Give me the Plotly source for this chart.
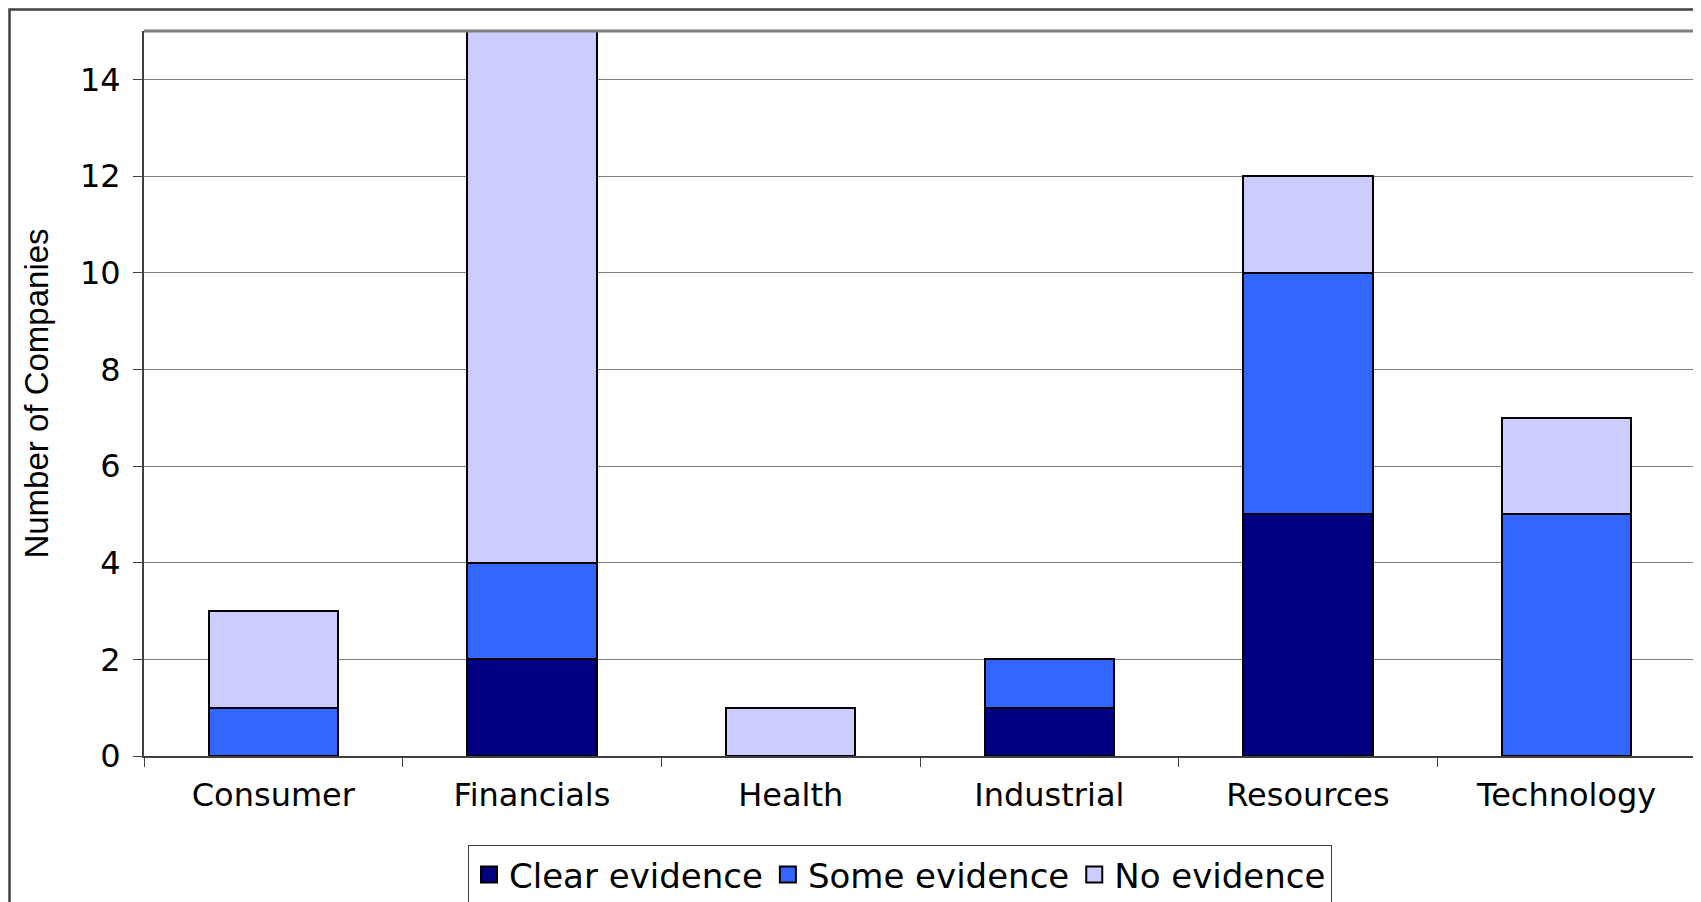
import plotly.graph_objects as go

categories = ["Consumer", "Financials", "Health", "Industrial", "Resources", "Technology"]
clear_evidence = [0, 2, 0, 1, 5, 0]
some_evidence = [1, 2, 0, 1, 5, 5]
no_evidence = [2, 11, 1, 0, 2, 2]
y_ticks = [0, 2, 4, 6, 8, 10, 12, 14]

series = [
    ("Clear evidence", clear_evidence, "#000080"),
    ("Some evidence", some_evidence, "#3366FF"),
    ("No evidence", no_evidence, "#CCCCFF"),
]

fig = go.Figure()
for name, vals, color in series:
    fig.add_trace(go.Bar(
        x=categories, y=vals, name=name, showlegend=False,
        marker=dict(color=color, line=dict(color="#000000", width=2)),
    ))
# legend entries with larger square swatches
for name, vals, color in series:
    fig.add_trace(go.Scatter(
        x=[None], y=[None], mode="markers", name=name,
        marker=dict(symbol="square", size=20, color=color, line=dict(color="#000000", width=2)),
    ))

# page body has an 8px margin, so the figure is 8px smaller than the window
W, H = 1693, 894
ml, mr, mt, mb = 136, 5, 23, 146
pw = W - ml - mr
ph = H - mt - mb

def px_x(p):
    return (p - ml) / pw

def px_y(p):
    return (H - mb - p) / ph

tick_font = dict(family="DejaVu Sans, Verdana, sans-serif", size=32, color="#000000")

fig.update_layout(
    width=W, height=H,
    margin=dict(l=ml, r=mr, t=mt, b=mb, autoexpand=False),
    barmode="stack", bargap=0.5,
    paper_bgcolor="#FFFFFF", plot_bgcolor="#FFFFFF",
    showlegend=True,
    legend=dict(
        orientation="h", x=px_x(892), xanchor="center", y=px_y(837), yanchor="top",
        bordercolor="#404040", borderwidth=1, bgcolor="#FFFFFF",
        font=dict(family="DejaVu Sans, Verdana, sans-serif", size=34, color="#000000"),
        traceorder="normal", itemwidth=30, tracegroupgap=0,
    ),
    xaxis=dict(
        type="category", tickfont=tick_font, showline=True, linecolor="#404040", linewidth=2,
        ticks="outside", tickson="boundaries", ticklen=9, tickcolor="#404040", tickwidth=1,
        showgrid=False, automargin=False, ticklabelstandoff=10,
    ),
    yaxis=dict(
        range=[0, 15], tickvals=y_ticks, tickfont=tick_font,
        showline=True, linecolor="#404040", linewidth=2,
        ticks="outside", ticklen=9, tickcolor="#404040", tickwidth=1,
        showgrid=True, gridcolor="#808080", gridwidth=1, zeroline=False,
        automargin=False, ticklabelstandoff=6,
        title=dict(text="Number of Companies",
                   font=dict(family="Liberation Sans, Arial, sans-serif", size=33, color="#000000"),
                   standoff=21),
    ),
    shapes=[
        dict(type="line", xref="paper", yref="paper", x0=0, x1=1, y0=1, y1=1,
             line=dict(color="#808080", width=3)),
        dict(type="line", xref="paper", yref="paper", x0=1, x1=1, y0=0, y1=1,
             line=dict(color="#808080", width=2)),
        dict(type="rect", xref="paper", yref="paper", x0=px_x(1.5), x1=px_x(1720),
             y0=px_y(920), y1=px_y(1.5), line=dict(color="#404040", width=2.5),
             fillcolor="rgba(0,0,0,0)", layer="below"),
    ],
)

fig.write_html("out.html")
